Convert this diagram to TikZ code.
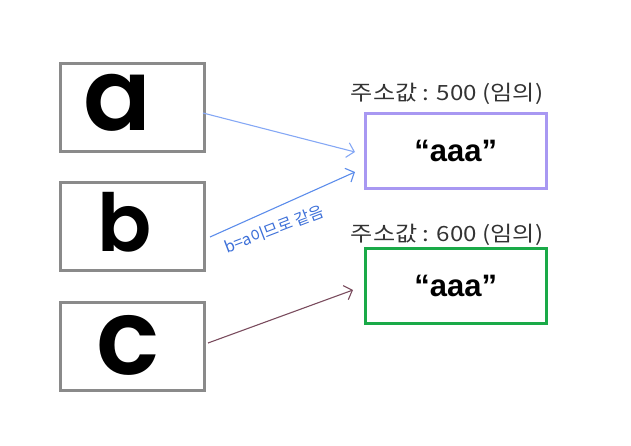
\documentclass[tikz,border=0pt]{standalone}
\usepackage{fontspec}
\setmainfont{Liberation Sans}
\newfontfamily\hand{Poppins}[UprightFont={* SemiBold}]
\newfontfamily\kr{Noto Sans CJK KR}
\usetikzlibrary{arrows.meta}
\definecolor{boxgray}{HTML}{8A8A8A}
\definecolor{purp}{HTML}{A898F2}
\definecolor{grn}{HTML}{1AAA48}
\definecolor{arra}{HTML}{85A8F5}
\definecolor{arrb}{HTML}{5B8CEB}
\definecolor{arrc}{HTML}{7A4C5E}
\definecolor{lblblue}{HTML}{3C6FD8}
\tikzset{
  varbox/.style={draw=boxgray, line width=2.6pt, minimum width=144pt, minimum height=88pt, inner sep=0pt, anchor=north west},
  valbox/.style={line width=2.6pt, minimum width=181pt, minimum height=75pt, inner sep=0pt, anchor=north west},
  letter/.style={font=\hand, inner sep=0pt},
  valtext/.style={font=\bfseries\fontsize{31}{31}\selectfont},
  addr/.style={font=\kr\fontsize{21}{21}\selectfont, text=black!80, inner sep=0pt, xscale=1.15},
  arr/.style={line width=1.1pt, -{Straight Barb[length=7pt,width=15pt,line width=1.1pt]}},
}
\begin{document}
\begin{tikzpicture}[x=1pt,y=-1pt]
\useasboundingbox (0,0) rectangle (631,445);
\node[varbox] (a) at (59,62) {};
\node[varbox] (b) at (59,181) {};
\node[varbox] (c) at (59,301) {};
\node[letter, font=\hand\fontsize{100}{100}\selectfont] (la) at (117,103) {a};
\node[letter, font=\hand\fontsize{80}{80}\selectfont] (lb) at (125,222) {b};
\node[letter, font=\hand\fontsize{105}{105}\selectfont] (lc) at (128,345) {c};
\node[valbox, draw=purp] (v1) at (364,112) {};
\node[valbox, draw=grn] (v2) at (364,247) {};
\node[valtext] (t1) at (v1.center) {“aaa”};
\node[valtext] (t2) at (v2.center) {“aaa”};
\node[addr, transform shape] (ad1) at (447,94) {주소값 : 500 (임의)};
\node[addr, transform shape] (ad2) at (447,235) {주소값 : 600 (임의)};
\coordinate (a1) at (203,113);
\coordinate (a2) at (355,152);
\coordinate (b1) at (210,237);
\coordinate (b2) at (355,172);
\coordinate (c1) at (208,343);
\coordinate (c2) at (353,290);
\draw[arr, draw=arra] (a1) -- (a2);
\draw[arr, draw=arrb] (b1) -- (b2);
\draw[arr, draw=arrc] (c1) -- (c2);
\node[font=\kr\fontsize{16}{16}\selectfont, text=lblblue, rotate=21, inner sep=0pt] (lbl) at (274,229) {b=a이므로\ 같음};
\end{tikzpicture}
\end{document}
